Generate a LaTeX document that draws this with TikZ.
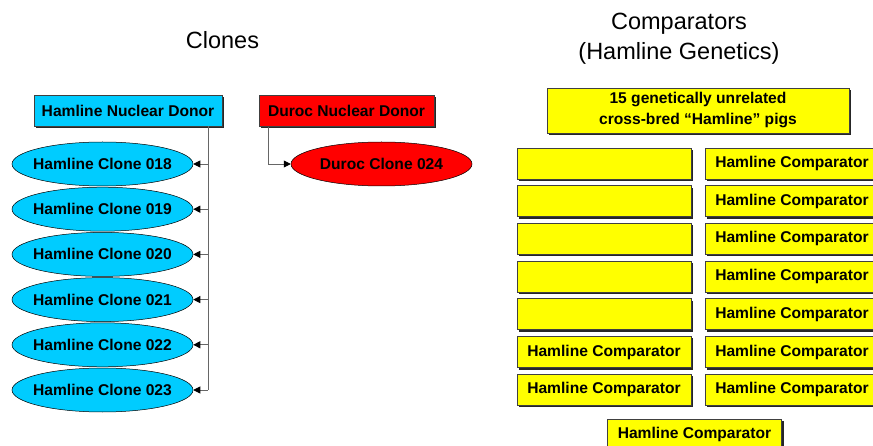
\documentclass[tikz,border=0pt]{standalone}
\usepackage{fontspec}
\setmainfont{Liberation Sans}
\usetikzlibrary{shapes.geometric,arrows.meta,shadows}
\definecolor{hcyan}{HTML}{00CCFF}
\definecolor{hred}{HTML}{FF0000}
\definecolor{hyel}{HTML}{FFFF00}
\tikzset{
  lbl/.style={font=\bfseries\fontsize{15.6}{18}\selectfont, text=black},
  title/.style={font=\fontsize{23.5}{30}\selectfont, align=center},
  boxshadow/.style={drop shadow={shadow xshift=2pt, shadow yshift=-2pt, fill=black!85, opacity=1}},
  donorbox/.style={lbl, rectangle, draw=black!75, line width=0.8pt, boxshadow, minimum height=31pt, inner sep=0pt},
  clone/.style={lbl, ellipse, draw=black, line width=0.5pt, minimum width=181pt, minimum height=44pt, inner xsep=-7pt, inner ysep=0pt},
  cmpbox/.style={lbl, rectangle, draw=black!75, line width=0.8pt, boxshadow, fill=hyel, minimum width=174pt, minimum height=31pt, inner sep=0pt},
  link/.style={draw=black!60, line width=0.9pt},
  linkarr/.style={link, -{Triangle[length=7pt,width=7pt,black]}},
}
\begin{document}
\begin{tikzpicture}[x=1pt,y=-1pt]
\useasboundingbox (0,0) rectangle (873,446);
% titles
\node[title] (tclones) at (222.5,40) {Clones};
\node[title] (tcomp) at (679,38.5) {Comparators\\(Hamline Genetics)};
% donors
\node[donorbox, fill=hcyan, minimum width=188pt] (hdonor) at (128,110.5) {Hamline Nuclear Donor};
\node[donorbox, fill=hred, minimum width=175pt] (ddonor) at (346.5,111) {Duroc Nuclear Donor};
% clones
\node[clone, fill=hcyan] (c018) at (102.5,164) {Hamline Clone 018};
\node[clone, fill=hcyan] (c019) at (102.5,209.2) {Hamline Clone 019};
\node[clone, fill=hcyan] (c020) at (102.5,254.4) {Hamline Clone 020};
\node[clone, fill=hcyan] (c021) at (102.5,299.6) {Hamline Clone 021};
\node[clone, fill=hcyan] (c022) at (102.5,344.8) {Hamline Clone 022};
\node[clone, fill=hcyan] (c023) at (102.5,390) {Hamline Clone 023};
\node[clone, fill=hred] (d024) at (381.5,164) {Duroc Clone 024};
% trunk
\coordinate (trunk) at (208,126);
\draw[link] (hdonor.south -| trunk) -- (c023.east -| trunk);
\foreach \c in {c018,c019,c020,c021,c022,c023}{
  \draw[linkarr] (\c.east -| trunk) -- (\c.east);
}
\coordinate (dtrunk) at (268,127);
\draw[linkarr] (ddonor.south -| dtrunk) |- (d024.west);
% comparators
\node[cmpbox, minimum width=302pt, minimum height=45pt, align=center, font=\bfseries\fontsize{15.6}{21}\selectfont] (head) at (698,110.5) {15 genetically unrelated\\cross-bred “Hamline” pigs};
\node[cmpbox] (l1) at (604,163.5) {};
\node[cmpbox] (l2) at (604,201.2) {};
\node[cmpbox] (l3) at (604,238.9) {};
\node[cmpbox] (l4) at (604,276.6) {};
\node[cmpbox] (l5) at (604,314.3) {};
\node[cmpbox] (l6) at (604,352) {Hamline Comparator};
\node[cmpbox] (l7) at (604,389.7) {Hamline Comparator};
\node[cmpbox] (r1) at (792,163.5) {Hamline Comparator};
\node[cmpbox] (r2) at (792,201.2) {Hamline Comparator};
\node[cmpbox] (r3) at (792,238.9) {Hamline Comparator};
\node[cmpbox] (r4) at (792,276.6) {Hamline Comparator};
\node[cmpbox] (r5) at (792,314.3) {Hamline Comparator};
\node[cmpbox] (r6) at (792,352) {Hamline Comparator};
\node[cmpbox] (r7) at (792,389.7) {Hamline Comparator};
\node[cmpbox] (b1) at (694.5,434.5) {Hamline Comparator};
\end{tikzpicture}
\end{document}
